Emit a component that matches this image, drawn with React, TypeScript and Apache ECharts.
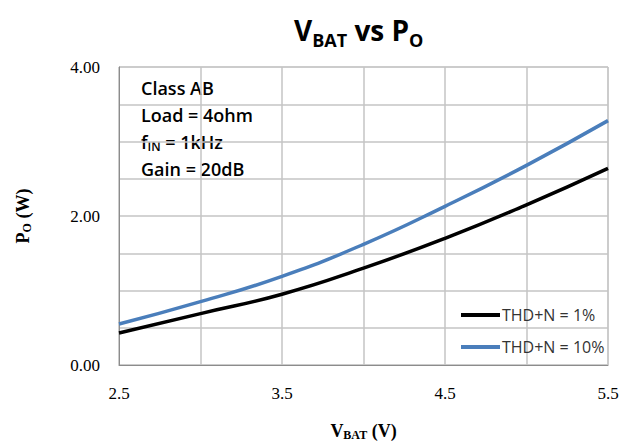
import React, { useEffect, useRef } from "react";
import * as echarts from "echarts";

const vbat = [2.5, 3.0, 3.5, 4.0, 4.5, 5.0, 5.5];
const thd1 = [0.43, 0.69, 0.95, 1.3, 1.7, 2.15, 2.64];
const thd10 = [0.55, 0.85, 1.19, 1.62, 2.13, 2.68, 3.28];
const seriesNames = ["THD+N = 1%", "THD+N = 10%"];
const notes = ["Class AB", "Load = 4ohm", "{b|f}{s|IN}{b| = 1kHz}", "Gain = 20dB"];

export default function App() {
  const ref = useRef<HTMLDivElement>(null);
  useEffect(() => {
    if (!ref.current) return;
    const chart = echarts.init(ref.current, null, { renderer: "svg" });
    const serif = "Liberation Serif";
    const sans = "Open Sans";
    const gridColor = "#c4c4c4";
    chart.setOption({
      animation: false,
      backgroundColor: "#ffffff",
      title: {
        text: "{m|V}{s|BAT}{m| vs P}{s|O}",
        left: 289,
        top: 6,
        textStyle: {
          rich: {
            m: { fontFamily: sans, fontWeight: "bold", fontSize: 28, color: "#000", lineHeight: 36 },
            s: { fontFamily: sans, fontWeight: "bold", fontSize: 18, color: "#000", padding: [20, 0, 0, 0] },
          },
        },
      },
      grid: { left: 119, top: 67, width: 489, height: 300, containLabel: false, show: true, borderColor: gridColor, borderWidth: 1 },
      legend: {
        left: 456,
        top: 302,
        orient: "vertical",
        itemGap: 16,
        itemWidth: 39,
        itemHeight: 4,
        icon: "rect",
        textStyle: { fontFamily: sans, fontSize: 16, color: "#333", padding: [0, 0, 0, -3] },
        data: seriesNames,
      },
      graphic: [
        {
          type: "text",
          left: 141,
          top: 74,
          style: {
            text: notes.join("\n"),
            fontFamily: sans,
            fontWeight: 600,
            fontSize: 18,
            lineHeight: 27,
            fill: "#000",
            rich: {
              b: { fontFamily: sans, fontWeight: 600, fontSize: 18, lineHeight: 27 },
              s: { fontFamily: sans, fontWeight: 600, fontSize: 12, padding: [10, 0, 0, 0] },
            },
          },
        },
      ],
      xAxis: {
        type: "value",
        min: 2.5,
        max: 5.5,
        interval: 0.5,
        name: "{m|V}{s|BAT}{m| (V)}",
        nameLocation: "middle",
        nameGap: 56,
        nameTextStyle: {
          rich: {
            m: { fontFamily: serif, fontWeight: "bold", fontSize: 18, color: "#000" },
            s: { fontFamily: serif, fontWeight: "bold", fontSize: 12, color: "#000", padding: [8, 0, 0, 0] },
          },
        },
        axisLine: { show: true, lineStyle: { color: "#8c8c8c", width: 1 } },
        axisTick: { show: false },
        splitLine: { show: true, lineStyle: { color: gridColor, width: 1.5, type: "solid" } },
        axisLabel: {
          fontFamily: serif,
          fontSize: 17,
          color: "#000",
          margin: 20,
          formatter: (v: number) => (Math.abs((v - 2.5) % 1) < 1e-6 ? v.toFixed(1) : ""),
        },
      },
      yAxis: {
        type: "value",
        min: 0,
        max: 4,
        interval: 0.5,
        name: "{m|P}{s|O}{m| (W)}",
        nameLocation: "middle",
        nameRotate: 90,
        nameGap: 86,
        nameTextStyle: {
          rich: {
            m: { fontFamily: serif, fontWeight: "bold", fontSize: 18, color: "#000" },
            s: { fontFamily: serif, fontWeight: "bold", fontSize: 12, color: "#000", padding: [8, 0, 0, 0] },
          },
        },
        axisLine: { show: true, lineStyle: { color: "#8c8c8c", width: 1 } },
        axisTick: { show: false },
        splitLine: { show: true, lineStyle: { color: gridColor, width: 1.5, type: "solid" } },
        axisLabel: {
          fontFamily: serif,
          fontSize: 17,
          color: "#000",
          margin: 19,
          formatter: (v: number) => (Math.abs(v % 2) < 1e-6 ? v.toFixed(2) : ""),
        },
      },
      series: [
        {
          name: seriesNames[0],
          type: "line",
          smooth: true,
          symbol: "none",
          data: vbat.map((x, i) => [x, thd1[i]]),
          lineStyle: { color: "#000000", width: 3.5 },
          itemStyle: { color: "#000000" },
        },
        {
          name: seriesNames[1],
          type: "line",
          smooth: true,
          symbol: "none",
          data: vbat.map((x, i) => [x, thd10[i]]),
          lineStyle: { color: "#4a7ebb", width: 3.5 },
          itemStyle: { color: "#4a7ebb" },
        },
      ],
    });
    return () => chart.dispose();
  }, []);
  return (
    <div
      ref={ref}
      style={{ position: "fixed", left: 0, top: 0, width: 634, height: 446, background: "#fff" }}
    />
  );
}
